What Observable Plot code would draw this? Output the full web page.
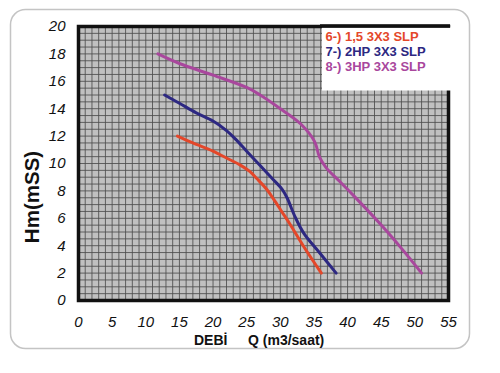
<!DOCTYPE html>
<html>
<head>
<meta charset="utf-8">
<script src="https://cdn.jsdelivr.net/npm/d3@7"></script>
<script src="https://cdn.jsdelivr.net/npm/@observablehq/plot@0.6"></script>
<style>
  html, body { margin: 0; padding: 0; background: #fff; }
  #chart { width: 500px; height: 373px; }
  svg { font-family: "Liberation Sans", Arial, sans-serif; }
</style>
</head>
<body>
<div id="chart"></div>
<script>
// ---- data ----
const seriesNames = ["6-) 1,5 3X3 SLP", "7-) 2HP 3X3 SLP", "8-) 3HP 3X3 SLP"];
const seriesColors = ["#e4472a", "#2d2882", "#a9479d"];

const q1 = [14.7, 17, 20, 22, 24, 25.5, 26.5, 28, 29, 30.2, 31.4, 33.4, 36.1];
const h1 = [12.0, 11.5, 10.9, 10.4, 9.9, 9.4, 8.9, 8.1, 7.4, 6.5, 5.6, 4.0, 2.0];

const q2 = [12.8, 15, 17.5, 20, 22, 23.3, 25, 27, 29, 30.3, 31, 32.2, 33.5, 35.8, 38.3];
const h2 = [15.0, 14.4, 13.7, 13.1, 12.4, 11.8, 10.9, 9.85, 8.8, 8.1, 7.5, 6.1, 4.9, 3.5, 2.0];

const q3 = [11.8, 15, 20, 25, 27, 30, 33, 35.1, 35.8, 36.8, 38.8, 41, 45.2, 48.1, 51];
const h3 = [18.0, 17.3, 16.45, 15.55, 15.0, 14.0, 12.9, 11.6, 10.5, 9.7, 8.7, 7.6, 5.4, 3.75, 2.0];

const xTicks = [0, 5, 10, 15, 20, 25, 30, 35, 40, 45, 50, 55];
const yTicks = [0, 2, 4, 6, 8, 10, 12, 14, 16, 18, 20];
const xGrid = d3.range(0, 55.001, 1);
const yGrid = d3.range(0, 20.001, 0.5);
const xLabelA = "DEBİ";
const xLabelB = "Q (m3/saat)";
const yLabel = "Hm(mSS)";

const rows = [];
[[q1, h1], [q2, h2], [q3, h3]].forEach(([qs, hs], i) => {
  qs.forEach((q, j) => rows.push({series: seriesNames[i], q, h: hs[j]}));
});

const plot = Plot.plot({
  width: 500,
  height: 373,
  marginLeft: 78,
  marginRight: 52,
  marginTop: 26,
  marginBottom: 73,
  style: {fontFamily: '"Liberation Sans", Arial, sans-serif', background: "transparent"},
  x: {domain: [0, 55]},
  y: {domain: [0, 20]},
  color: {domain: seriesNames, range: seriesColors},
  marks: [
    Plot.frame({fill: "#c0c0c0"}),
    Plot.ruleX(xGrid, {stroke: "#4d4d4d", strokeWidth: 1, strokeOpacity: 0.85}),
    Plot.ruleY(yGrid, {stroke: "#4d4d4d", strokeWidth: 1, strokeOpacity: 0.85}),
    Plot.line(rows, {x: "q", y: "h", z: "series", stroke: "series", strokeWidth: 3, curve: "catmull-rom"}),
    Plot.frame({stroke: "#111", strokeWidth: 3.5}),
    Plot.axisX(xTicks, {tickSize: 0, tickPadding: 16, fontSize: 15, fill: "#111", label: null}),
    Plot.axisY(yTicks, {tickSize: 0, tickPadding: 13, fontSize: 15, fill: "#111", label: null})
  ]
});

const svg = d3.select(plot);
svg.selectAll('g[aria-label$="tick label"]').attr("font-style", "italic");

// rounded outer panel behind everything
svg.insert("rect", ":first-child")
  .attr("x", 10.5).attr("y", 9.5).attr("width", 459).attr("height", 339)
  .attr("rx", 15).attr("fill", "#fff").attr("stroke", "#c4c4c4").attr("stroke-width", 1.5);

// legend box
const lg = svg.append("g").attr("text-anchor", "start");
lg.append("rect").attr("x", 322).attr("y", 27.5).attr("width", 130).attr("height", 63).attr("fill", "#fff");
lg.append("line").attr("x1", 320).attr("x2", 450).attr("y1", 26).attr("y2", 26)
  .attr("stroke", "#111").attr("stroke-width", 3.5);
seriesNames.forEach((name, i) => {
  lg.append("text").attr("x", 325.5).attr("y", 41 + i * 15)
    .attr("text-anchor", "start")
    .attr("font-size", 13).attr("font-weight", "bold").attr("fill", seriesColors[i])
    .text(name);
});

// axis titles
svg.append("text")
  .attr("transform", "translate(39,197) rotate(-90)")
  .attr("text-anchor", "middle").attr("font-size", 20.5).attr("font-weight", "bold").attr("fill", "#111")
  .text(yLabel);
svg.append("text").attr("x", 194).attr("y", 345).attr("text-anchor", "start")
  .attr("font-size", 14).attr("font-weight", "bold").attr("fill", "#111").text(xLabelA);
svg.append("text").attr("x", 248).attr("y", 345).attr("text-anchor", "start")
  .attr("font-size", 14).attr("font-weight", "bold").attr("fill", "#111").text(xLabelB);

document.getElementById("chart").appendChild(plot);
</script>
</body>
</html>
